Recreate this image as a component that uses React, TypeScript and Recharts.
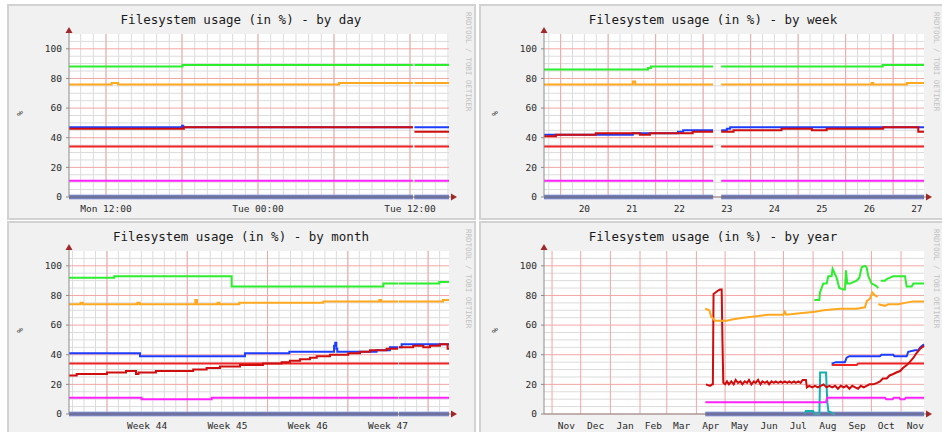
import React from 'react'
import { LineChart, Line, XAxis, YAxis, CartesianGrid, ReferenceDot } from 'recharts'

type Pt = [number, number | null]

const yTicks = [0, 20, 40, 60, 80, 100]
const yMinor = [5, 10, 15, 25, 30, 35, 45, 50, 55, 65, 70, 75, 85, 90, 95, 105]

// by day: x = hours since Monday 00:00
const dayDomain: [number, number] = [9.08, 39.08]
const dayLabelAt = [12, 24, 36]
const dayLabels = ['Mon 12:00', 'Tue 00:00', 'Tue 12:00']
const dayMajor = [12, 18, 24, 30, 36]
const dayGreen: Pt[] = [[9.08, 88], [18.05, 89], [36.23, 89], [36.29, null], [36.35, 89], [39.08, 89]]
const dayOrange: Pt[] = [[9.08, 76], [12.45, 77], [12.95, 76], [30.4, 77], [36.23, 77], [36.29, null], [36.35, 77], [39.08, 77]]
const dayBlue: Pt[] = [[9.08, 47], [18.0, 48], [18.1, 47], [36.23, 47], [36.29, null], [36.35, 47], [39.08, 47]]
const dayRed: Pt[] = [[9.08, 46], [18.15, 47], [36.23, 47], [36.29, null], [36.35, 44], [39.08, 44]]
const dayRed34: Pt[] = [[9.08, 34], [36.23, 34], [36.29, null], [36.35, 34], [39.08, 34]]
const dayMagenta: Pt[] = [[9.08, 11], [36.23, 11], [36.29, null], [36.35, 11], [39.08, 11]]
const dayBase: Pt[] = [[9.08, 0], [36.23, 0], [36.29, null], [36.35, 0], [39.08, 0]]

// by week: x = day of month
const weekDomain: [number, number] = [19.65, 27.65]
const weekLabelAt = [20.5, 21.5, 22.5, 23.5, 24.5, 25.5, 26.5, 27.5]
const weekLabels = ['20', '21', '22', '23', '24', '25', '26', '27']
const weekMajor = [20, 21, 22, 23, 24, 25, 26, 27]
const weekGreen: Pt[] = [[19.65, 86], [21.84, 87], [21.9, 88], [23.21, 88], [23.3, null], [23.38, 88], [26.78, 89], [27.65, 89]]
const weekOrange: Pt[] = [[19.65, 76], [21.52, 78], [21.57, 76], [23.21, 76], [23.3, null], [23.38, 76], [26.55, 77], [26.58, 76], [27.29, 77], [27.65, 77]]
const weekBlue: Pt[] = [[19.65, 42], [21.52, 43], [22.47, 44], [22.58, 45], [23.21, 45], [23.3, null], [23.38, 45], [23.5, 46], [23.57, 47], [27.65, 47]]
const weekRed: Pt[] = [[19.65, 41], [19.9, 42], [20.74, 43], [21.67, 42], [21.88, 43], [22.78, 44], [23.21, 44], [23.3, null], [23.38, 44], [23.64, 45], [24.65, 46], [25.29, 45], [25.6, 46], [26.79, 47], [27.53, 44], [27.65, 44]]
const weekRed34: Pt[] = [[19.65, 34], [23.21, 34], [23.3, null], [23.38, 34], [27.65, 34]]
const weekMagenta: Pt[] = [[19.65, 11], [23.21, 11], [23.3, null], [23.38, 11], [27.65, 11]]
const weekBase: Pt[] = [[19.65, 0], [23.21, 0], [23.3, null], [23.38, 0], [27.65, 0]]

// by month: x = days since Monday of week 44
const monthDomain: [number, number] = [-3.31, 29.82]
const monthLabelAt = [3.5, 10.5, 17.5, 24.5]
const monthLabels = ['Week 44', 'Week 45', 'Week 46', 'Week 47']
const monthMajor = [0, 7, 14, 21, 28]
const monthGreen: Pt[] = [[-3.31, 92], [0.64, 93], [10.87, 86], [24.1, 88], [25.38, 88], [25.41, null], [25.45, 88], [28.97, 89], [29.82, 89]]
const monthOrange: Pt[] = [[-3.31, 74], [-2.3, 75], [-2.1, 74], [2.65, 75], [2.85, 74], [7.7, 77], [7.85, 74], [9.65, 75], [9.8, 74], [11.54, 75], [18.86, 76], [23.75, 77], [23.9, 76], [25.38, 76], [25.41, null], [25.45, 76], [29.3, 77], [29.82, 77]]
const monthBlue: Pt[] = [[-3.31, 41], [2.88, 39], [12.03, 41], [15.9, 42], [19.8, 46], [19.9, 48], [20.0, 44], [20.08, 42], [23.5, 43], [24.67, 45], [25.38, 45], [25.41, null], [25.45, 45], [25.69, 47], [29.82, 47]]
const monthRed: Pt[] = [[-3.31, 26], [-2.64, 27], [0, 28], [1.66, 29], [2.53, 27], [2.75, 28], [4.27, 29], [7.52, 30], [8.69, 31], [9.85, 32], [11.6, 33], [13.6, 34], [15.23, 35], [15.95, 36], [16.83, 37], [17.7, 38], [18.28, 39], [19.44, 40], [21.04, 41], [22.06, 42], [22.93, 43], [24.38, 44], [25.38, 44], [25.41, null], [25.45, 45], [26.7, 46], [27.58, 45], [28.16, 46], [29.03, 47], [29.7, 44], [29.82, 44]]
const monthRed34: Pt[] = [[-3.31, 34], [25.38, 34], [25.41, null], [25.45, 34], [29.82, 34]]
const monthMagenta: Pt[] = [[-3.31, 11], [3.02, 10], [9.13, 11], [25.38, 11], [25.41, null], [25.45, 11], [29.82, 11]]
const monthBase: Pt[] = [[-3.31, 0], [25.38, 0], [25.41, null], [25.45, 0], [29.82, 0]]

// by year: x = days since 1 Nov of previous year
const yearDomain: [number, number] = [-8.4, 389]
const yearLabelAt = [15, 45.5, 76.5, 106, 135.5, 166, 196.5, 227, 257.5, 288.5, 319, 349.5, 380]
const yearLabels = ['Nov', 'Dec', 'Jan', 'Feb', 'Mar', 'Apr', 'May', 'Jun', 'Jul', 'Aug', 'Sep', 'Oct', 'Nov']
const yearMajor = [0, 30, 61, 92, 120, 151, 181, 212, 242, 273, 304, 334, 365]
const yearGreen: Pt[] = [[274.3, 77], [279.5, 77], [280.2, 82], [283.7, 88], [287.2, 88], [288.9, 93], [292.4, 93], [293.4, 98], [294.8, 96], [297.6, 92], [300.4, 85], [304.6, 84], [306.3, 84], [307.4, 97], [308.8, 88], [311.6, 88], [315.1, 89], [318.6, 90], [321.4, 92], [323.8, 99], [327.3, 100], [329, 99], [330.8, 93], [334.2, 88], [337.7, 87], [341.3, 85], [342.5, null], [343.7, 90], [348.2, 90], [350, 91], [356.9, 93], [369.1, 93], [370.9, 86], [376.1, 86], [377.9, 88], [389, 88]]
const yearOrange: Pt[] = [[160.3, 71], [164.6, 70], [166.2, 66], [170.4, 63], [182.6, 63], [189.6, 64], [200, 65], [214, 66], [226.2, 67], [241.9, 67], [243.5, 69], [245, 67], [259.4, 68], [275.1, 69], [283.8, 70], [301.2, 71], [318.6, 71], [327.3, 72], [329, 76], [332.5, 78], [335, 82], [337.8, 80], [340.5, 79], [341, null], [341.2, 74], [348.2, 73], [351.5, 74], [362.1, 74], [369, 75], [377.7, 76], [389, 76]]
const yearBlue: Pt[] = [[292.4, 34], [297, 35], [306.3, 35], [308.1, 38], [311, 39], [342.9, 39], [344.5, 40], [356.9, 40], [358, 39], [370.9, 39], [372.5, 42], [379.6, 43], [383.1, 43], [385, 45], [389, 47]]
const yearRed: Pt[] = [[161.0, 20], [165.2, 19], [167.5, 20], [168.2, 20], [168.9, 81], [171, 82], [173, 83], [175.6, 84], [177.4, 84], [178.2, 50], [179.1, 21], [181, 20], [183, 22], [185, 20], [187.5, 22], [190, 20], [192, 23], [194.5, 21], [197, 22], [199, 20], [201.5, 22], [204, 21], [206, 23], [208.5, 20], [211, 22], [213, 21], [215.5, 23], [218, 20], [220, 22], [222.5, 21], [225, 22], [227, 20], [229.5, 22], [232, 21], [234, 22], [236.5, 21], [239, 22], [241, 21], [243.5, 22], [246, 21], [248, 22], [250.5, 21], [253, 22], [255, 21], [257.5, 22], [260, 21], [262, 23], [265.5, 23], [266.5, 18], [269, 19], [272, 18], [275, 19], [278, 18], [281, 19], [284, 20], [287, 18], [290, 19], [293, 18], [296, 19], [299, 17], [302, 19], [305, 18], [308, 19], [311, 17], [314, 19], [317, 18], [320, 17], [323, 19], [326, 18], [329, 19], [332, 20], [336, 20], [340, 21], [343, 22], [346, 24], [350, 24], [353, 26], [357, 27], [360, 28], [364, 29], [367, 31], [371, 33], [374, 35], [378, 38], [381, 41], [385, 44], [389, 46]]
const yearRed34: Pt[] = [[292.4, 33], [318.6, 33], [320, 34], [389, 34]]
const yearMagenta: Pt[] = [[160.3, 8], [286.5, 8], [287.9, 11], [348.2, 11], [349.5, 10], [356, 10], [357.5, 11], [363, 11], [364.5, 10], [368.5, 10], [370, 11], [389, 11]]
const yearTeal: Pt[] = [[264, 0], [265.5, 2], [273, 2], [274.5, 0], [279.6, 0], [280.4, 28], [286.5, 28], [287.9, 8], [289, 2], [292, 1], [294, 0], [296, 0]]
const yearBase: Pt[] = [[160.3, 0], [389, 0]]

const range = (a: number, b: number, step: number) => {
  const out: number[] = []
  for (let v = a; v <= b + 1e-9; v += step) out.push(Math.round(v * 1000) / 1000)
  return out
}

const COLORS = {
  green: '#2cee2c',
  orange: '#ffa820',
  blue: '#1c3cff',
  red: '#d00c0c',
  red34: '#f02424',
  magenta: '#ff22ff',
  teal: '#12b0b0',
  baseHalo: '#a3acdc',
  base: '#5058a4',
}

const FONT = '"DejaVu Sans Mono", monospace'

type Series = { pts: Pt[]; color: string; width?: number }

const toRows = (pts: Pt[]) => pts.map(([x, v]) => ({ x, v }))

const scaleOf = (axis: any, v: number) => {
  const s = axis?.scale
  if (typeof s === 'function') return s(v)
  if (s && typeof s.map === 'function') return s.map(v)
  return 0
}

const ArrowRight = (p: any) => (
  <g>
    <line x1={p.cx} y1={p.cy} x2={p.cx + 4} y2={p.cy} stroke="#8c8c8c" />
    <path d={`M${p.cx + 2},${p.cy - 3.5}L${p.cx + 8},${p.cy}L${p.cx + 2},${p.cy + 3.5}Z`} fill="#a02828" />
  </g>
)

const ArrowUp = (p: any) => (
  <g>
    <line x1={p.cx} y1={p.cy} x2={p.cx} y2={p.cy - 3} stroke="#8c8c8c" />
    <path d={`M${p.cx - 3.5},${p.cy - 1}L${p.cx},${p.cy - 7}L${p.cx + 3.5},${p.cy - 1}Z`} fill="#a02828" />
  </g>
)

interface PanelProps {
  left: number
  top: number
  width: number
  plotLeft: number
  markLeft: number
  title: string
  domain: [number, number]
  labelAt: number[]
  labels: string[]
  major: number[]
  minor: number[]
  series: Series[]
  curve: 'stepAfter' | 'linear'
}

function Panel({ left, top, width, plotLeft, markLeft, title, domain, labelAt, labels, major, minor, series, curve }: PanelProps) {
  const yAxisW = 40
  const mLeft = plotLeft - left - yAxisW
  const mRight = width - (plotLeft - left) - 380
  const inDom = (v: number) => v >= domain[0] && v <= domain[1]
  return (
    <>
      <div
        style={{
          position: 'absolute',
          left,
          top: top + 9,
          width: 468,
          textAlign: 'center',
          fontFamily: FONT,
          fontSize: 12.5,
          lineHeight: '14px',
          color: '#1a1a1a',
          whiteSpace: 'pre',
        }}
      >
        {title}
      </div>
      <div
        style={{
          position: 'absolute',
          left: markLeft,
          top: top + 8,
          writingMode: 'vertical-rl',
          fontFamily: FONT,
          fontSize: 7.5,
          lineHeight: '8px',
          color: '#c2c2c2',
          whiteSpace: 'pre',
        }}
      >
        RRDTOOL / TOBI OETIKER
      </div>
      <div
        style={{
          position: 'absolute',
          left: plotLeft - 54,
          top: top + 107,
          writingMode: 'vertical-rl',
          fontFamily: FONT,
          fontSize: 8,
          lineHeight: '8px',
          color: '#333',
        }}
      >
        %
      </div>
      <div style={{ position: 'absolute', left, top }}>
        <LineChart
          width={width}
          height={216}
          margin={{ top: 30, right: mRight, left: mLeft, bottom: 3 }}
          style={{ fontFamily: FONT }}
        >
          <CartesianGrid
            fill="#ffffff"
            stroke="#dcdcdc"
            verticalCoordinatesGenerator={({ xAxis }: any) => minor.filter(inDom).map((v) => scaleOf(xAxis, v))}
            horizontalCoordinatesGenerator={({ yAxis }: any) => yMinor.map((v) => scaleOf(yAxis, v))}
          />
          <CartesianGrid
            stroke="#f2a6a6"
            verticalCoordinatesGenerator={({ xAxis }: any) => major.filter(inDom).map((v) => scaleOf(xAxis, v))}
            horizontalCoordinatesGenerator={({ yAxis }: any) => yTicks.map((v) => scaleOf(yAxis, v))}
          />
          <XAxis
            type="number"
            dataKey="x"
            domain={domain}
            ticks={labelAt}
            interval={0}
            tickFormatter={(v: number) => labels[labelAt.indexOf(v)] ?? ''}
            tick={{ fontSize: 9.5, fill: '#2a2a2a', fontFamily: FONT }}
            tickLine={false}
            axisLine={{ stroke: '#8c8c8c' }}
            height={20}
          />
          <YAxis
            type="number"
            domain={[0, 110]}
            ticks={yTicks}
            interval={0}
            width={yAxisW}
            tick={{ fontSize: 9.5, fill: '#2a2a2a', fontFamily: FONT }}
            tickLine={{ stroke: '#8c8c8c' }}
            tickSize={3}
            tickMargin={4}
            axisLine={{ stroke: '#8c8c8c' }}
          />
          {series.map((s, i) => (
            <Line
              key={i}
              data={toRows(s.pts)}
              dataKey="v"
              type={curve}
              stroke={s.color}
              strokeWidth={s.width ?? 2}
              dot={false}
              activeDot={false}
              connectNulls={false}
              isAnimationActive={false}
            />
          ))}
          <ReferenceDot x={domain[1]} y={0} r={0} ifOverflow="visible" shape={ArrowRight} />
          <ReferenceDot x={domain[0]} y={110} r={0} ifOverflow="visible" shape={ArrowUp} />
        </LineChart>
      </div>
    </>
  )
}

const baseSeries = (pts: Pt[]): Series[] => [
  { pts, color: COLORS.baseHalo, width: 5 },
  { pts, color: COLORS.base, width: 3 },
]

const panelBox = (left: number, top: number, width: number, height: number): React.CSSProperties => ({
  position: 'absolute',
  left,
  top,
  width,
  height,
  boxSizing: 'border-box',
  border: '2px solid #d2d2d2',
  background: '#f1f1f1',
})

export default function App() {
  return (
    <div style={{ position: 'absolute', left: 0, top: 0, width: 942, height: 432, background: '#ffffff', overflow: 'hidden' }}>
      <div style={panelBox(7, 4, 469, 216)} />
      <div style={panelBox(479, 4, 472, 216)} />
      <div style={panelBox(7, 221, 469, 220)} />
      <div style={panelBox(479, 221, 472, 220)} />

      <Panel
        left={7}
        top={4}
        width={468}
        plotLeft={69}
        markLeft={464}
        title="Filesystem usage (in %) - by day"
        domain={dayDomain}
        labelAt={dayLabelAt}
        labels={dayLabels}
        major={dayMajor}
        minor={range(10, 39, 1)}
        curve="stepAfter"
        series={[
          ...baseSeries(dayBase),
          { pts: dayMagenta, color: COLORS.magenta },
          { pts: dayRed34, color: COLORS.red34 },
          { pts: dayBlue, color: COLORS.blue },
          { pts: dayRed, color: COLORS.red },
          { pts: dayOrange, color: COLORS.orange },
          { pts: dayGreen, color: COLORS.green },
        ]}
      />
      <Panel
        left={479}
        top={4}
        width={471}
        plotLeft={544}
        markLeft={932}
        title="Filesystem usage (in %) - by week"
        domain={weekDomain}
        labelAt={weekLabelAt}
        labels={weekLabels}
        major={weekMajor}
        minor={range(19.75, 27.5, 0.25)}
        curve="stepAfter"
        series={[
          ...baseSeries(weekBase),
          { pts: weekMagenta, color: COLORS.magenta },
          { pts: weekRed34, color: COLORS.red34 },
          { pts: weekBlue, color: COLORS.blue },
          { pts: weekRed, color: COLORS.red },
          { pts: weekOrange, color: COLORS.orange },
          { pts: weekGreen, color: COLORS.green },
        ]}
      />
      <Panel
        left={7}
        top={221}
        width={468}
        plotLeft={69}
        markLeft={464}
        title="Filesystem usage (in %) - by month"
        domain={monthDomain}
        labelAt={monthLabelAt}
        labels={monthLabels}
        major={monthMajor}
        minor={range(-3, 29, 1)}
        curve="stepAfter"
        series={[
          ...baseSeries(monthBase),
          { pts: monthMagenta, color: COLORS.magenta },
          { pts: monthRed34, color: COLORS.red34 },
          { pts: monthBlue, color: COLORS.blue },
          { pts: monthRed, color: COLORS.red },
          { pts: monthOrange, color: COLORS.orange },
          { pts: monthGreen, color: COLORS.green },
        ]}
      />
      <Panel
        left={479}
        top={221}
        width={471}
        plotLeft={544}
        markLeft={932}
        title="Filesystem usage (in %) - by year"
        domain={yearDomain}
        labelAt={yearLabelAt}
        labels={yearLabels}
        major={yearMajor}
        minor={[]}
        curve="linear"
        series={[
          ...baseSeries(yearBase),
          { pts: yearTeal, color: COLORS.teal },
          { pts: yearMagenta, color: COLORS.magenta },
          { pts: yearRed34, color: COLORS.red34 },
          { pts: yearBlue, color: COLORS.blue },
          { pts: yearRed, color: COLORS.red },
          { pts: yearOrange, color: COLORS.orange },
          { pts: yearGreen, color: COLORS.green },
        ]}
      />
    </div>
  )
}
